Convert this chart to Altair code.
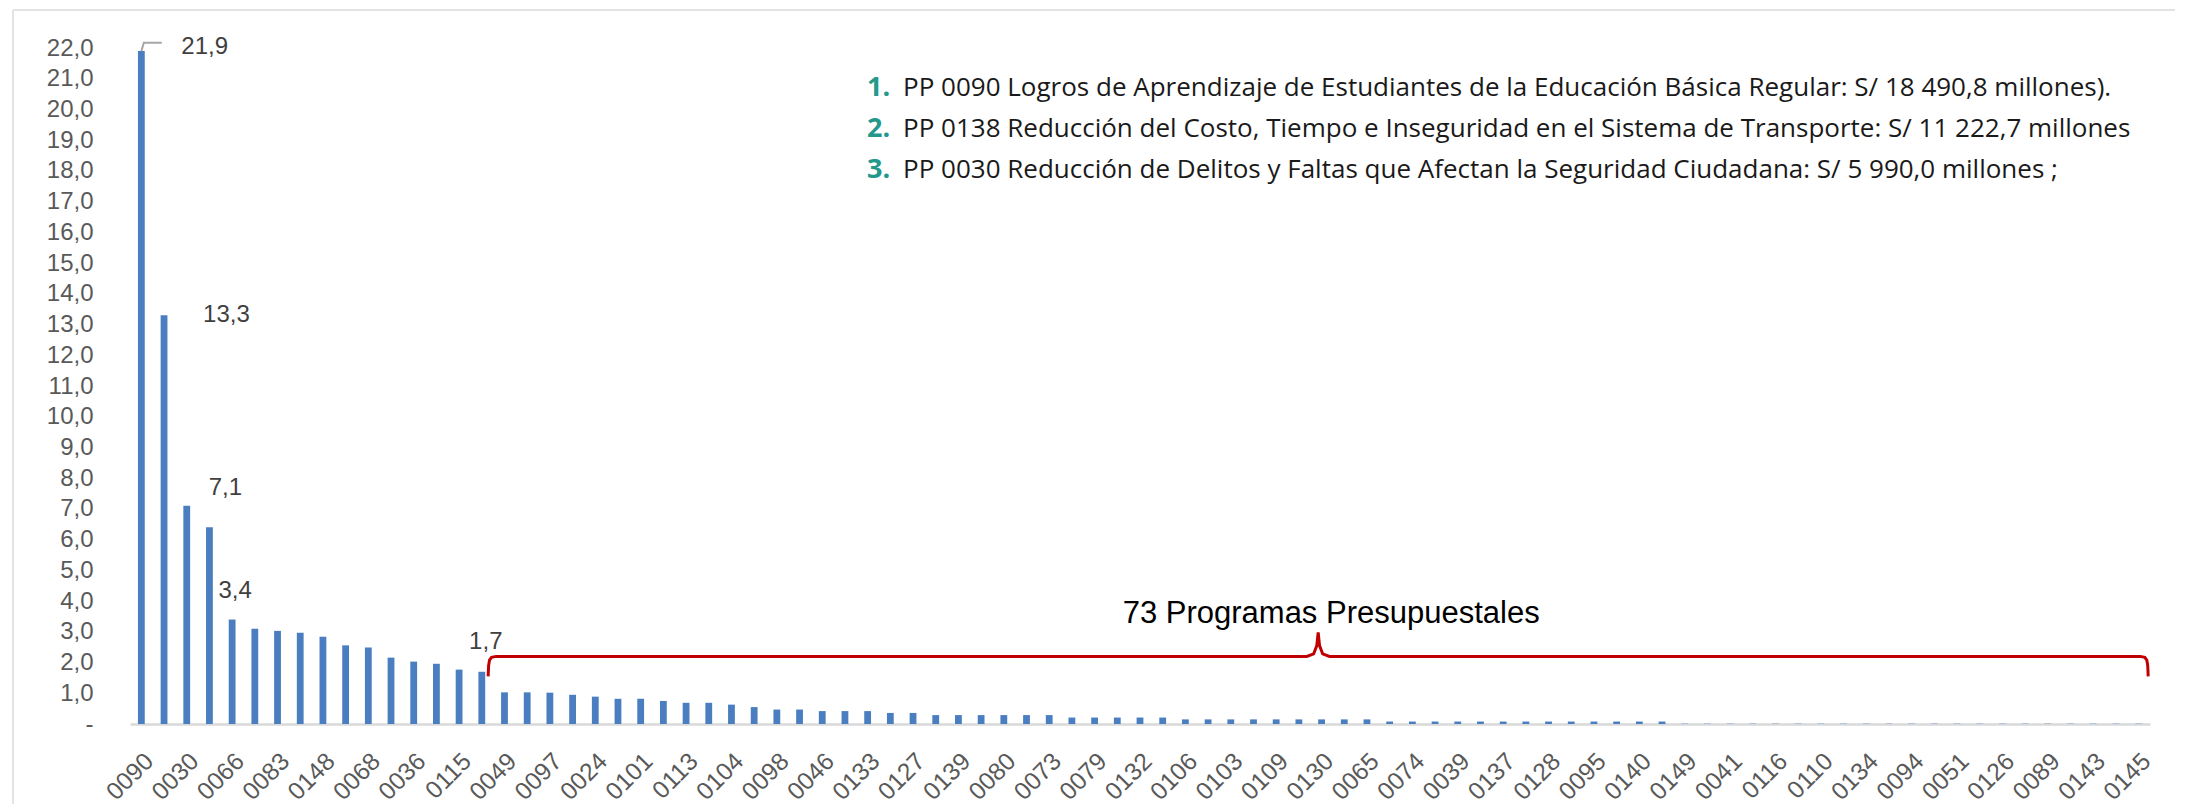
import altair as alt
import pandas as pd

# ---------------- data ----------------
labeled_codes = ["0090", "0030", "0066", "0083", "0148", "0068", "0036", "0115", "0049",
                 "0097", "0024", "0101", "0113", "0104", "0098", "0046", "0133", "0127",
                 "0139", "0080", "0073", "0079", "0132", "0106", "0103", "0109", "0130",
                 "0065", "0074", "0039", "0137", "0128", "0095", "0140", "0149", "0041",
                 "0116", "0110", "0134", "0094", "0051", "0126", "0089", "0143", "0145"]
# programmes between the labelled ticks (not printed on the axis)
other_codes = ["0138", "0001", "0082", "0135", "0002", "0031", "0091", "0086", "0018",
               "0061", "0016", "0017", "0032", "0042", "0131", "0040", "0057", "0067",
               "0048", "0121", "0084", "0035", "0072", "0062", "0099", "0107", "0114",
               "0117", "0118", "0119", "0120", "0122", "0123", "0124", "0125", "0129",
               "0142", "0144", "0146", "0147", "0047", "0058", "0093", "0087"]
shares = [21.9, 13.3, 7.1, 6.4, 3.4, 3.1, 3.03, 2.97, 2.84, 2.56, 2.49, 2.16, 2.03, 1.96, 1.77, 1.7,
          1.03, 1.03, 1.02, 0.95, 0.89, 0.82, 0.82, 0.75, 0.69, 0.69, 0.63, 0.55, 0.47, 0.47,
          0.42, 0.42, 0.42, 0.36, 0.36, 0.29, 0.29, 0.29, 0.29, 0.29, 0.29,
          0.21, 0.21, 0.21, 0.21, 0.21,
          0.15, 0.15, 0.15, 0.15, 0.15, 0.15, 0.15, 0.15, 0.15,
          0.08, 0.08, 0.08, 0.08, 0.08, 0.08, 0.08, 0.08, 0.08, 0.08, 0.08, 0.08, 0.08,
          0.01, 0.01, 0.01, 0.01, 0.01, 0.01, 0.01, 0.01, 0.01, 0.01, 0.01, 0.01, 0.01,
          0.01, 0.01, 0.01, 0.01, 0.01, 0.01, 0.01, 0.01]
y_ticks = [0, 1, 2, 3, 4, 5, 6, 7, 8, 9, 10, 11, 12, 13, 14, 15, 16, 17, 18, 19, 20, 21, 22]
group_size = 73
group_label = "73 Programas Presupuestales"
labelled_bars = ["0090", "0138", "0030", "0066", "0049"]

note_numbers = ["1.", "2.", "3."]
note_texts = [
    "PP 0090 Logros de Aprendizaje de Estudiantes de la Educación Básica Regular: S/ 18 490,8 millones).",
    "PP 0138 Reducción del Costo, Tiempo e Inseguridad en el Sistema de Transporte: S/ 11 222,7 millones",
    "PP 0030 Reducción de Delitos y Faltas que Afectan la Seguridad Ciudadana: S/ 5 990,0 millones ;",
]

# ---------------- tables ----------------
n = len(shares)
codes = [labeled_codes[i // 2] if i % 2 == 0 else other_codes[i // 2] for i in range(n)]
df = pd.DataFrame({"code": codes, "share": shares, "idx": list(range(n))})

BLUE = "#4A7EC0"
RED = "#C00000"
TEAL = "#23988B"
GREY = "#595959"
W, H = 2020, 676
YDOM = [0, 22]
XDOM = [-0.5, n - 0.5]

yscale = alt.Scale(domain=YDOM, nice=False)
xq = alt.Scale(domain=XDOM, nice=False, zero=False)


def y_axis():
    return alt.Axis(values=y_ticks, tickCount=len(y_ticks), grid=False, ticks=False, domain=False,
                    labelFontSize=24, labelColor=GREY, labelPadding=37,
                    labelOverlap=False, labelBound=False, title=None,
                    labelExpr="datum.value == 0 ? '-\u00a0\u00a0' : replace(format(datum.value, '.1f'), '.', ',')")


bars = alt.Chart(df).mark_bar(color=BLUE).encode(
    x=alt.X("code:N", sort=codes, title=None,
            scale=alt.Scale(paddingInner=0.7, paddingOuter=0.35),
            axis=alt.Axis(values=labeled_codes, labelAngle=-45, labelFontSize=24.5,
                          labelColor=GREY, labelPadding=25, ticks=False,
                          domainColor="#D9D9D9", domainWidth=2.5, labelOverlap=False,
                          grid=False)),
    y=alt.Y("share:Q", scale=yscale, title=None, axis=y_axis()),
)

# data labels (placed as in the original, nudged off the bars)
label_style = {
    "0090": dict(align="left", dx=40, dy=-4),
    "0138": dict(align="left", dx=39, dy=0),
    "0030": dict(align="left", dx=22, dy=-18),
    "0066": dict(align="center", dx=3, dy=-29),
    "0049": dict(align="center", dx=4, dy=-30),
}
label_layers = []
for c in labelled_bars:
    st = label_style[c]
    # bar that precedes the 73-programme group carries the 1,7 label
    code_for = c if c != "0049" else codes[n - group_size - 1]
    layer = alt.Chart(df).transform_filter(alt.datum.code == code_for).transform_calculate(
        lab="replace(format(datum.share, '.1f'), '.', ',')"
    ).mark_text(fontSize=24, color="#404040", baseline="middle", **st).encode(
        x=alt.X("idx:Q", scale=xq, axis=None),
        y=alt.Y("share:Q", scale=yscale, title=None, axis=y_axis()),
        text="lab:N",
    )
    label_layers.append(layer)

# leader line for the first label
top = shares[0]
leader_df = pd.DataFrame({"x": [0.0, 0.11, 0.9], "y": [top, top + 0.27, top + 0.27], "k": [0, 1, 2]})
leader = alt.Chart(leader_df).mark_line(color="#A6A6A6", strokeWidth=2).encode(
    x=alt.X("x:Q", scale=xq, axis=None),
    y=alt.Y("y:Q", scale=yscale, title=None, axis=y_axis()),
    order="k:Q",
)

# curly brace over the 73 programmes
start = (n - group_size) - 0.72
end = (n - 1) + 0.42
mid = (start + end) / 2
yh, ylow, ypk = 2.2, 1.55, 2.98
bx = [start, start + 0.02, start + 0.06, start + 0.15, start + 0.35,
      mid - 0.5, mid - 0.2, mid - 0.06, mid, mid + 0.06, mid + 0.2, mid + 0.5,
      end - 0.35, end - 0.15, end - 0.06, end - 0.02, end]
by = [ylow, 1.9, 2.08, 2.17, yh,
      yh, yh + 0.08, yh + 0.35, ypk, yh + 0.35, yh + 0.08, yh,
      yh, 2.17, 2.08, 1.9, ylow]
brace_df = pd.DataFrame({"x": bx, "y": by, "k": list(range(len(bx)))})
brace = alt.Chart(brace_df).mark_line(color=RED, strokeWidth=3).encode(
    x=alt.X("x:Q", scale=xq, axis=None),
    y=alt.Y("y:Q", scale=yscale, title=None, axis=y_axis()),
    order="k:Q",
)
brace_text = alt.Chart(pd.DataFrame({"x": [mid], "y": [ypk], "t": [group_label]})).mark_text(
    fontSize=31, color="#000000", align="center", baseline="middle", dx=13, dy=-18
).encode(
    x=alt.X("x:Q", scale=xq, axis=None),
    y=alt.Y("y:Q", scale=yscale, title=None, axis=y_axis()),
    text="t:N",
)

# notes at top right
note_layers = []
one = pd.DataFrame({"a": [0]})
for i, (num, txt) in enumerate(zip(note_numbers, note_texts)):
    yy = 40 + 41 * i
    note_layers.append(alt.Chart(one).mark_text(
        font="Open Sans", fontWeight="bold", fontSize=27, color=TEAL, align="left", baseline="middle"
    ).encode(x=alt.value(737), y=alt.value(yy), text=alt.value(num)))
    note_layers.append(alt.Chart(one).mark_text(
        font="Open Sans", fontSize=26, color="#1A1A1A", align="left", baseline="middle"
    ).encode(x=alt.value(773), y=alt.value(yy), text=alt.value(txt)))

# faint frame lines of the original graphic
frame_left = alt.Chart(one).mark_rule(color="#E3E3E3", strokeWidth=2).encode(
    x=alt.value(-117), y=alt.value(-38), y2=alt.value(760))
frame_top = alt.Chart(one).mark_rule(color="#E3E3E3", strokeWidth=2).encode(
    x=alt.value(-117), x2=alt.value(W + 25), y=alt.value(-38))

chart = alt.layer(
    frame_left, frame_top, bars, *label_layers, leader, brace, brace_text, *note_layers
).resolve_scale(x="independent").properties(
    width=W, height=H,
    padding={"left": 122, "top": 40, "right": 25, "bottom": 80},
    autosize=alt.AutoSizeParams(type="none"),
).configure(font="Liberation Sans").configure_view(stroke=None)

chart.save("out.html", embed_options={"renderer": "svg", "actions": False})
